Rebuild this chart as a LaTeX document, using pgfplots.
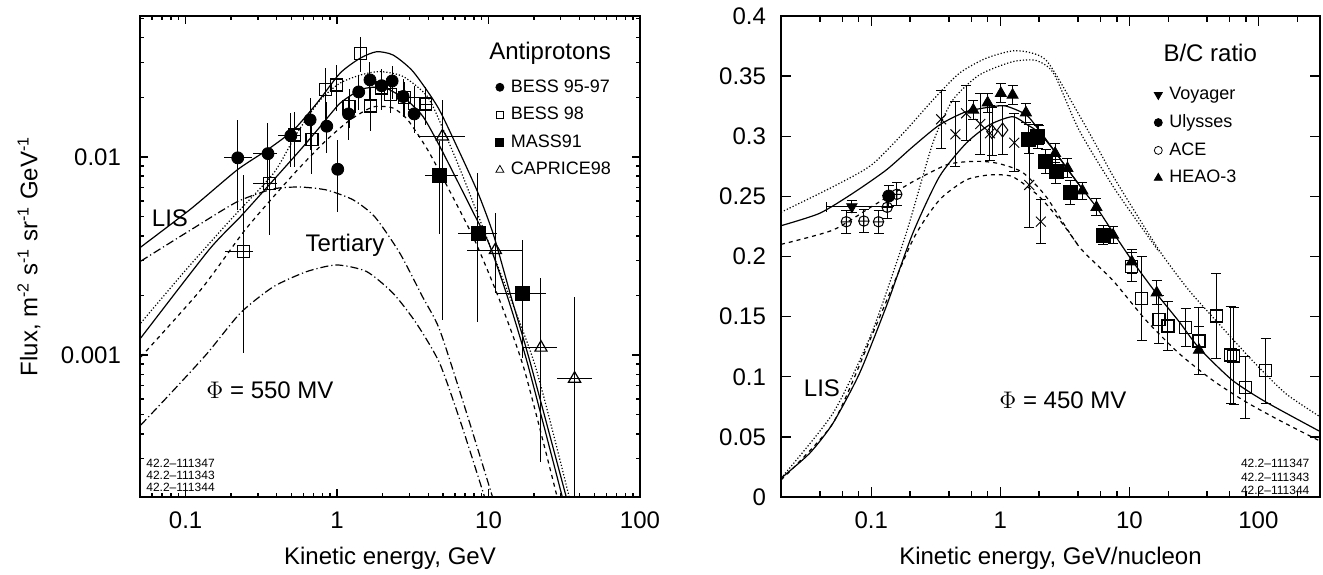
\documentclass[border=0pt]{standalone}
\usepackage{fontspec}
\setmainfont{Liberation Sans}
\usepackage{pgfplots}
\pgfplotsset{compat=1.18}

\pgfplotsset{
  panel/.style={
    scale only axis,
    height=240.5pt,
    axis line style={line width=0.9pt},
    every tick/.style={black, line width=0.7pt},
    tick align=inside,
    tick pos=both,
    tick label style={font=\fontsize{12}{14}\selectfont},
    label style={font=\fontsize{12}{14}\selectfont},
    legend style={draw=none, fill=none, font=\fontsize{9}{10}\selectfont,
      legend cell align=left, row sep=4pt, inner sep=0pt,
      nodes={inner sep=1pt}},
    legend image code/.code={\draw[##1] plot coordinates {(0pt,0pt)};
      \path[draw=none, fill=none] (-2.5pt,-1pt) rectangle (4.5pt,1pt);},
  },
  curve/.style={black, line width=0.6pt, smooth, tension=0.4, no markers, forget plot},
  errs/.style={forget plot, only marks, black,
    error bars/x dir=both, error bars/x explicit,
    error bars/y dir=both, error bars/y explicit,
    error bars/error bar style={line width=0.5pt, black}},
}

\begin{document}
\begin{tikzpicture}
\path[use as bounding box] (0pt,0pt) rectangle (661.5pt,287pt);

% ---------------- antiprotons ----------------
\begin{axis}[panel,
  at={(70pt,38.5pt)}, anchor=south west, width=250pt,
  xmode=log, ymode=log,
  xmin=0.05, xmax=100, ymin=0.000192, ymax=0.0515,
  xtick={0.1,1,10,100}, xticklabels={0.1,1,10,100},
  minor xtick={0.06,0.07,0.08,0.09,0.2,0.3,0.4,0.5,0.6,0.7,0.8,0.9,2,3,4,5,6,7,8,9,20,30,40,50,60,70,80,90},
  ytick={0.001,0.01}, yticklabels={0.001,0.01},
  minor ytick={0.0003,0.0004,0.0005,0.0006,0.0007,0.0008,0.0009,0.002,0.003,0.004,0.005,0.006,0.007,0.008,0.009,0.02,0.03,0.04,0.05},
  major tick length=4pt, minor tick length=2pt,
  xticklabel style={yshift=-4pt},
  yticklabel style={xshift=-6pt},
  xlabel={Kinetic energy, GeV},
  xlabel style={at={(axis description cs:0.5,-0.127)}, anchor=center},
  ylabel={Flux, m\textsuperscript{-2} s\textsuperscript{-1} sr\textsuperscript{-1} GeV\textsuperscript{-1}},
  ylabel style={at={(axis description cs:-0.222,0.5)}, anchor=center},
  legend style={at={(0.709,0.873)}, anchor=north west},
]
% LIS
\addplot[curve] table {
0.0506 0.00351
0.108 0.00546
0.219 0.00860
0.345 0.01084
0.516 0.01368
0.735 0.01867
1.046 0.02648
1.417 0.0315
1.824 0.0340
2.346 0.0327
3.177 0.0270
4.62 0.01789
6.25 0.0111
8.47 0.00666
10.79 0.00404
14.17 0.00194
18.89 0.000911
32.6 0.000192
};
% modulated
\addplot[curve] table {
0.0506 0.00122
0.1423 0.00339
0.230 0.00499
0.381 0.00766
0.571 0.01084
0.773 0.01422
1.046 0.01867
1.417 0.0218
1.733 0.0225
2.123 0.0222
2.875 0.0194
3.70 0.01597
4.83 0.0111
8.09 0.00509
10.15 0.0036
13.54 0.0019
18.06 0.000911
30.7 0.000192
};
\addplot[curve, densely dotted] table {
0.0506 0.00145
0.1 0.00268
0.1977 0.00481
0.381 0.00828
0.543 0.01318
0.773 0.0194
1.046 0.0236
1.417 0.0259
1.918 0.0270
2.73 0.0255
3.97 0.0201
5.14 0.0132
6.64 0.0083
10.46 0.00339
20.07 0.000911
34.1 0.000192
};
\addplot[curve, dash pattern=on 2pt off 2pt] table {
0.0506 0.000977
0.1256 0.00213
0.241 0.00418
0.379 0.00628
0.571 0.00890
0.855 0.0122
1.218 0.01538
1.725 0.01789
2.335 0.01768
2.93 0.01538
3.97 0.01085
5.37 0.00705
8.09 0.00381
11.81 0.0019
17.26 0.00084
28.4 0.000192
};
% tertiary
\addplot[curve, dash pattern=on 4pt off 1.5pt on 0.6pt off 1.5pt] table {
0.0506 0.00298
0.108 0.00428
0.219 0.00594
0.379 0.00690
0.571 0.00705
0.855 0.00681
1.28 0.00607
1.778 0.00498
2.597 0.00327
3.68 0.00196
4.76 0.00134
7.07 0.000527
10.63 0.000192
};
\addplot[curve, dash pattern=on 4pt off 1.5pt on 0.6pt off 1.5pt] table {
0.0506 0.000443
0.0834 0.000665
0.139 0.00102
0.230 0.00163
0.379 0.00221
0.632 0.00264
0.995 0.00285
1.567 0.00264
2.346 0.00205
3.34 0.001446
4.76 0.000908
6.64 0.000443
9.42 0.000192
};

% BESS 98
\addplot[errs, mark=square, mark size=3pt, mark options={line width=0.6pt}, error bars/error mark=none]
 table[x=E, y=F, x error minus=xm, x error plus=xp, y error minus=ym, y error plus=yp] {
E F xm xp ym yp
1.42 0.0334 0 0 0.0066 0.007
0.838 0.022 0 0 0.007 0.006
0.995 0.0231 0 0 0.006 0.006
0.524 0.0129 0.114 0.046 0.004 0.004
0.683 0.0122 0 0 0.004 0.004
1.20 0.0180 0 0 0.004 0.004
1.67 0.0181 0 0 0.0045 0.0045
1.97 0.0223 0 0 0.005 0.005
2.25 0.0206 0 0 0.004 0.004
2.80 0.0199 0 0 0.004 0.004
3.26 0.0187 0 0 0.004 0.004
3.85 0.0185 0.3 0.3 0.004 0.004
0.359 0.00736 0.08 0.04 0.0033 0.0025
0.240 0.00333 0.057 0.04 0.0023 0.0048
};
% BESS 95-97
\addplot[errs, mark=*, mark size=3pt, error bars/error mark=none]
 table[x=E, y=F, x error minus=xm, x error plus=xp, y error minus=ym, y error plus=yp] {
E F xm xp ym yp
0.221 0.0099 0.043 0.055 0.0045 0.0055
0.350 0.0104 0.07 0.05 0.0036 0.0044
0.495 0.0128 0.07 0.07 0.0039 0.0039
0.664 0.0154 0 0 0.0045 0.0045
0.855 0.0143 0 0 0.0038 0.0047
1.01 0.00867 0 0 0.0034 0.0035
1.19 0.0165 0 0 0.0043 0.0036
1.39 0.0213 0 0 0.004 0.0046
1.65 0.0245 0 0 0.005 0.0057
1.97 0.0229 0 0 0.0045 0.005
2.31 0.0242 0 0 0.0045 0.0045
2.73 0.0202 0 0 0.0042 0.0045
3.23 0.0165 0 0 0.0033 0.0036
};
% MASS91
\addplot[errs, mark=square*, mark size=3.5pt, error bars/error mark=none]
 table[x=E, y=F, x error minus=xm, x error plus=xp, y error minus=ym, y error plus=yp] {
E F xm xp ym yp
4.77 0.0081 0.98 1.48 0.004 0.004
8.51 0.00412 2.26 2.89 0.00265 0.0042
16.7 0.00205 5.24 7.4 0.00108 0.00176
};
% CAPRICE98
\addplot[errs, mark=triangle, mark size=3.5pt, mark options={line width=0.6pt}, error bars/error mark=none]
 table[x=E, y=F, x error minus=xm, x error plus=xp, y error minus=ym, y error plus=yp] {
E F xm xp ym yp
4.96 0.0127 1.55 1.99 0.0112 0.0067
11.1 0.00339 3.93 5.6 0.00133 0.00182
22.2 0.00109 5.5 6.3 0.0008 0.00136
37.0 0.00076 8.6 11.3 0.00075 0.0012
};

\addlegendimage{only marks, mark=*, mark size=2pt}
\addlegendentry{BESS 95-97}
\addlegendimage{only marks, mark=square, mark size=1.8pt, mark options={line width=0.4pt}}
\addlegendentry{BESS 98}
\addlegendimage{only marks, mark=square*, mark size=2pt}
\addlegendentry{MASS91}
\addlegendimage{only marks, mark=triangle, mark size=2.3pt, mark options={line width=0.4pt}}
\addlegendentry{CAPRICE98}

\node[anchor=west, font=\fontsize{12}{14}\selectfont, inner sep=0pt] at (rel axis cs:0.698,0.923) {Antiprotons};
\node[font=\fontsize{12}{14}\selectfont] at (rel axis cs:0.06,0.58) {LIS};
\node[font=\fontsize{12}{14}\selectfont] at (rel axis cs:0.41,0.524) {Tertiary};
\node[font=\fontsize{12}{14}\selectfont] at (rel axis cs:0.26,0.222) {$\Phi$ = 550 MV};
\node[anchor=south west, align=left, inner sep=0pt, font=\fontsize{6}{6}\selectfont] at (rel axis cs:0.012,0.01) {42.2--111347\\42.2--111343\\42.2--111344};
\end{axis}

% ---------------- B/C ratio ----------------
\begin{axis}[panel,
  at={(390.5pt,38.5pt)}, anchor=south west, width=269.5pt,
  xmode=log,
  xmin=0.02, xmax=300, ymin=0, ymax=0.4,
  xtick={0.1,1,10,100}, xticklabels={0.1,1,10,100},
  minor xtick={0.04,0.06,0.08,0.2,0.4,0.6,0.8,2,4,6,8,20,40,60,80,200},
  ytick={0,0.05,0.1,0.15,0.2,0.25,0.3,0.35,0.4},
  yticklabels={0,0.05,0.1,0.15,0.2,0.25,0.3,0.35,0.4},
  scaled y ticks=false,
  major tick length=5pt, minor tick length=3pt,
  xticklabel style={yshift=-4pt},
  yticklabel style={xshift=-4pt},
  xlabel={Kinetic energy, GeV/nucleon},
  xlabel style={at={(axis description cs:0.5,-0.127)}, anchor=center},
  legend style={at={(0.69,0.857)}, anchor=north west},
]
% solid, modulated
\addplot[curve] table {
0.02 0.2256
0.0398 0.2359
0.0721 0.2526
0.1306 0.2719
0.2099 0.2913
0.3375 0.3094
0.5428 0.3204
0.872 0.3246
1.107 0.3251
1.581 0.3180
2.0 0.3050
2.66 0.2870
3.3 0.2730
4.33 0.2560
5.56 0.2410
7.48 0.2200
10.44 0.1970
16.0 0.1700
24.23 0.1460
34.6 0.1240
62.5 0.0973
113 0.0793
300 0.0545
};
% solid, LIS
\addplot[curve] table {
0.02 0.0156
0.0333 0.0363
0.0505 0.0613
0.0812 0.1029
0.1306 0.1583
0.2099 0.2193
0.3375 0.2664
0.5428 0.2941
0.822 0.3094
1.245 0.3163
1.626 0.3094
2.0 0.3030
2.66 0.2870
3.3 0.2730
4.33 0.2560
};
% dotted, modulated
\addplot[curve, densely dotted] table {
0.02 0.2368
0.0505 0.258
0.1005 0.2761
0.1866 0.3052
0.2996 0.330
0.4818 0.3524
0.775 0.3648
1.322 0.3712
2.257 0.3634
4.083 0.3177
5.83 0.2881
7.8 0.2636
16.97 0.2054
28.9 0.1720
49 0.1444
89 0.1139
162 0.0862
300 0.0668
};
% dotted, LIS
\addplot[curve, densely dotted] table {
0.02 0.0156
0.0505 0.0696
0.1005 0.136
0.1866 0.2193
0.2996 0.2941
0.4277 0.330
0.688 0.351
1.245 0.362
1.9 0.363
2.6 0.352
4.083 0.3050
7.8 0.2553
16.97 0.2040
};
% dashed, modulated
\addplot[curve, dash pattern=on 2pt off 2pt] table {
0.02 0.2101
0.0505 0.222
0.1005 0.2414
0.2099 0.2622
0.380 0.2761
0.5428 0.2788
0.75 0.2790
1.0 0.2770
1.487 0.2700
2.257 0.2500
4.08 0.2082
7.4 0.1805
13.4 0.1472
24.2 0.1195
43.9 0.0973
79.4 0.0793
144 0.0640
300 0.0465
};
% dashed, LIS
\addplot[curve, dash pattern=on 2pt off 2pt] table {
0.02 0.0141
0.0505 0.0613
0.1027 0.136
0.2099 0.2137
0.3375 0.247
0.5428 0.2636
0.822 0.2678
1.245 0.2664
2.0 0.2500
3.0 0.2280
4.08 0.2082
};

% unlabelled sets
\addplot[errs, mark=x, mark size=3.5pt, mark options={line width=0.5pt}, error bars/error mark options={rotate=90, mark size=2.5pt, line width=0.5pt, black}]
 table[x=E, y=R, y error=ey] {
E R ey
0.348 0.3141 0.024
0.449 0.3016 0.027
0.543 0.3191 0.023
0.700 0.3102 0.025
0.832 0.3025 0.023
1.283 0.2946 0.024
1.676 0.2595 0.035
2.064 0.2290 0.018
};
\addplot[errs, mark=diamond, mark size=3.5pt, mark options={line width=0.5pt}, error bars/error mark options={rotate=90, mark size=2.5pt, line width=0.5pt, black}]
 table[x=E, y=R, y error=ey] {
E R ey
0.863 0.3038 0.02
1.042 0.3052 0.02
};
\addplot[errs, mark=square, mark size=3pt, mark options={line width=0.6pt}, error bars/error mark options={rotate=90, mark size=2.5pt, line width=0.5pt, black}]
 table[x=E, y=R, y error=ey] {
E R ey
10.44 0.1915 0.012
12.47 0.1652 0.035
16.97 0.1478 0.02
19.9 0.1422 0.02
27.3 0.1411 0.016
34.6 0.1297 0.028
47.1 0.1505 0.035
60.8 0.1181 0.04
64.5 0.1173 0.04
79.4 0.0912 0.026
113.5 0.1050 0.027
};
\addplot[errs, mark=square*, mark size=3.5pt, error bars/error mark options={rotate=90, mark size=2.5pt, line width=0.5pt, black}]
 table[x=E, y=R, y error=ey] {
E R ey
1.655 0.2975 0.012
1.943 0.2996 0.01
2.25 0.2788 0.01
2.70 0.2705 0.01
3.48 0.2531 0.01
6.26 0.2179 0.008
};
% HEAO-3
\addplot[errs, mark=triangle*, mark size=3.2pt, error bars/error mark options={rotate=90, mark size=2.5pt, line width=0.5pt, black}]
 table[x=E, y=R, y error=ey] {
E R ey
0.618 0.3218 0.008
0.798 0.3279 0.008
1.01 0.3357 0.008
1.245 0.3343 0.008
1.58 0.3196 0.008
1.98 0.3010 0.008
2.66 0.2858 0.008
3.315 0.2733 0.008
4.33 0.2547 0.007
5.56 0.2409 0.007
7.48 0.2179 0.007
10.44 0.1957 0.01
16.29 0.1699 0.01
34.6 0.1222 0.02
};
% ACE
\addplot[errs, mark=oplus, mark size=2.6pt, mark options={line width=0.5pt}, error bars/error mark options={rotate=90, mark size=2.5pt, line width=0.5pt, black}]
 table[x=E, y=R, y error=ey] {
E R ey
0.0641 0.2289 0.0095
0.0877 0.2295 0.0095
0.1139 0.2289 0.0095
0.133 0.2409 0.0095
0.1578 0.2517 0.0095
};
% Ulysses
\addplot[errs, mark=*, mark size=3pt, error bars/error mark options={rotate=90, mark size=2.5pt, line width=0.5pt, black}]
 table[x=E, y=R, y error=ey] {
E R ey
0.1368 0.2503 0.009
};
% Voyager
\addplot[errs, mark=triangle*, mark size=3pt, mark options={rotate=180}, error bars/error mark options={rotate=90, mark size=2.5pt, line width=0.5pt, black}]
 table[x=E, y=R, x error minus=xm, x error plus=xp, y error=ey] {
E R xm xp ey
0.0708 0.2414 0.026 0.0636 0.005
};

\addlegendimage{only marks, mark=triangle*, mark size=2.3pt, mark options={rotate=180}}
\addlegendentry{Voyager}
\addlegendimage{only marks, mark=*, mark size=2pt}
\addlegendentry{Ulysses}
\addlegendimage{only marks, mark=o, mark size=2pt, mark options={line width=0.4pt}}
\addlegendentry{ACE}
\addlegendimage{only marks, mark=triangle*, mark size=2.3pt}
\addlegendentry{HEAO-3}

\node[anchor=west, font=\fontsize{12}{14}\selectfont, inner sep=0pt] at (rel axis cs:0.709,0.923) {B/C ratio};
\node[font=\fontsize{12}{14}\selectfont] at (rel axis cs:0.076,0.227) {LIS};
\node[font=\fontsize{12}{14}\selectfont] at (rel axis cs:0.523,0.202) {$\Phi$ = 450 MV};
\node[anchor=south east, align=left, inner sep=0pt, font=\fontsize{6}{6.75}\selectfont] at (rel axis cs:0.981,0.004) {42.2--111347\\42.2--111343\\42.2--111344};
\end{axis}
\end{tikzpicture}
\end{document}
